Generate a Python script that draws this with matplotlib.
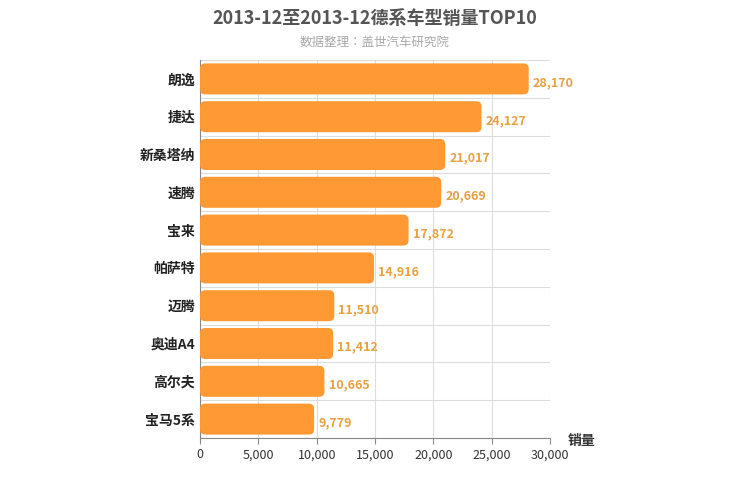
import matplotlib.pyplot as plt
from matplotlib import font_manager
from matplotlib.patches import FancyBboxPatch

cjk = sorted({f.name for f in font_manager.fontManager.ttflist if 'Sans CJK' in f.name})
cjk = [c for c in cjk if c.endswith('SC')] + cjk
plt.rcParams['font.family'] = cjk[:1] + ['DejaVu Sans']

models = ['朗逸', '捷达', '新桑塔纳', '速腾', '宝来', '帕萨特', '迈腾', '奥迪A4', '高尔夫', '宝马5系']
sales = [28170, 24127, 21017, 20669, 17872, 14916, 11510, 11412, 10665, 9779]
xticks = [0, 5000, 10000, 15000, 20000, 25000, 30000]

fig = plt.figure(figsize=(7.5, 5), dpi=100)
ax = fig.add_axes([0.2667, 0.124, 0.4667, 0.756])

n = len(models)
h = 0.82
for i, v in enumerate(sales):
    y = n - 1 - i
    ax.add_patch(FancyBboxPatch((0, y - h / 2), v, h,
                                boxstyle='round,pad=0,rounding_size=450',
                                mutation_aspect=0.0003,
                                facecolor='#FF9933', edgecolor='none', zorder=3))
    ax.text(v + 350, y - 0.1, f'{v:,}', va='center', ha='left',
            fontsize=9, color='#E8A040', fontweight='bold')

ax.set_xlim(0, 30000)
ax.set_ylim(-0.5, n - 0.5)
ax.set_xticks(xticks)
ax.set_xticklabels([f'{t:,}' for t in xticks], fontsize=9, color='#333333')
ax.set_yticks(range(n))
ax.set_yticklabels(models[::-1], fontsize=10, color='#222222', fontweight='bold')
ax.tick_params(axis='y', length=0)
ax.tick_params(axis='x', length=4, color='#888888')
ax.grid(True, axis='x', color='#dddddd', linewidth=0.8, zorder=0)
ax.set_yticks([i + 0.5 for i in range(-1, n)], minor=True)
ax.grid(True, axis='y', which='minor', color='#dddddd', linewidth=0.8)
ax.tick_params(axis='y', which='minor', length=0)
for s in ['top', 'right']:
    ax.spines[s].set_visible(False)
ax.spines['left'].set_color('#888888')
ax.spines['bottom'].set_color('#888888')

fig.text(0.5, 0.962, '2013-12至2013-12德系车型销量TOP10', ha='center', va='center',
         fontsize=13, fontweight='bold', color='#555555')
fig.text(0.5, 0.915, '数据整理：盖世汽车研究院', ha='center', va='center',
         fontsize=9, color='#aaaaaa')
fig.text(0.775, 0.118, '销量', ha='center', va='center', fontsize=10,
         color='#333333', fontweight='bold')

fig.savefig('out.png')
